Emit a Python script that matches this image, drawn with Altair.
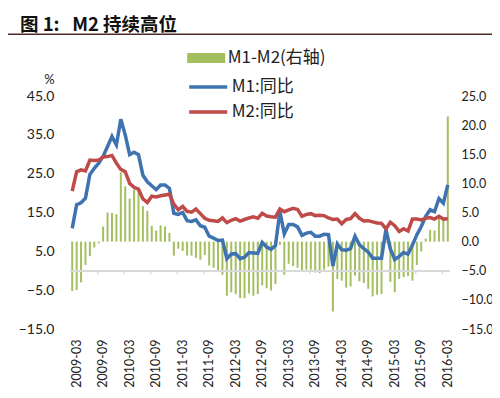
import altair as alt
import pandas as pd

# ---- data (monthly, 2009-02 .. 2016-03) ----
all_months = [f"{y}-{m:02d}" for y in range(2009, 2017) for m in range(1, 13)]
months = all_months[all_months.index("2009-02"):all_months.index("2016-03") + 1]

m1 = [10.9, 17.0, 17.5, 18.7, 24.8, 26.4, 27.7, 29.5, 32.0, 34.6, 32.4,
      39.0, 35.0, 29.9, 30.5, 29.9, 24.6, 22.9, 21.9, 20.9, 22.1, 22.1, 21.2,
      14.8, 14.5, 15.0, 12.9, 12.7, 13.1, 11.6, 11.2, 8.9, 8.4, 7.8, 7.9,
      3.1, 4.3, 4.4, 3.1, 3.5, 4.7, 4.6, 4.5, 7.3, 6.1, 5.5, 6.5,
      15.3, 9.5, 11.9, 11.9, 11.3, 9.1, 9.7, 9.9, 8.9, 8.9, 9.4, 9.3,
      1.2, 6.9, 5.4, 5.3, 5.7, 8.9, 6.7, 5.7, 4.8, 3.2, 3.2, 3.2,
      10.6, 5.6, 2.9, 3.7, 4.7, 4.3, 6.6, 9.3, 11.4, 14.0, 15.7, 15.2,
      18.6, 17.4, 22.1]

m2 = [20.5, 25.5, 26.0, 25.7, 28.5, 28.4, 28.5, 29.3, 29.4, 29.7, 27.7,
      26.1, 25.5, 22.5, 21.5, 21.0, 18.5, 17.6, 19.2, 19.0, 19.3, 19.5, 19.7,
      17.2, 15.7, 16.6, 15.3, 15.1, 15.9, 14.7, 13.5, 13.0, 12.9, 12.7, 13.6,
      12.4, 13.0, 13.4, 12.8, 13.2, 13.6, 13.9, 13.5, 14.8, 14.1, 13.9, 13.8,
      15.9, 15.2, 15.7, 16.1, 15.8, 14.0, 14.5, 14.7, 14.2, 14.3, 14.2, 13.6,
      13.2, 13.3, 12.1, 13.2, 13.4, 14.7, 13.5, 12.8, 12.9, 12.6, 12.3, 12.2,
      10.8, 12.5, 11.6, 10.1, 10.8, 10.2, 13.3, 13.3, 13.1, 13.5, 13.7, 13.3,
      14.0, 13.3, 13.4]

spread = [-8.5, -8.3, -7.0, -4.0, -2.5, -1.0, -0.3, 2.6, 5.0, 4.9, 4.7,
          11.9, 9.5, 7.4, 9.0, 8.9, 6.1, 5.3, 2.7, 1.9, 2.8, 2.6, 1.5,
          -2.4, -1.2, -1.6, -2.4, -2.4, -2.8, -3.1, -2.3, -4.1, -4.5, -4.9, -5.7,
          -9.3, -8.7, -9.0, -9.7, -9.7, -8.9, -9.3, -9.0, -7.5, -8.0, -8.4, -7.3,
          -0.6, -5.7, -3.8, -4.2, -4.5, -4.9, -4.8, -4.8, -5.3, -5.4, -4.8, -4.3,
          -12.0, -6.4, -6.7, -7.9, -7.7, -5.8, -6.8, -7.1, -8.1, -9.4, -9.1, -9.0,
          -0.2, -6.9, -8.7, -6.4, -6.1, -5.9, -6.7, -4.0, -1.7, 0.5, 2.0, 1.9,
          4.6, 4.1, 21.5]

x_labels = ["2009-03", "2009-09", "2010-03", "2010-09", "2011-03", "2011-09",
            "2012-03", "2012-09", "2013-03", "2013-09", "2014-03", "2014-09",
            "2015-03", "2015-09", "2016-03"]
tick_months = ["2009-08", "2010-02", "2010-08", "2011-02", "2011-08", "2012-02",
               "2012-08", "2013-02", "2013-08", "2014-02", "2014-08", "2015-02",
               "2015-08", "2016-02"]
left_ticks = [-15, -5, 5, 15, 25, 35, 45]
right_ticks = [-15, -10, -5, 0, 5, 10, 15, 20, 25]

bar_name = "M1-M2(右轴)"
line_names = ["M1:同比", "M2:同比"]
title_text = "图\u00a01:\u00a0\u00a0\u00a0M2\u00a0持续高位"

bars_df = pd.DataFrame({"month": months, "value": spread, "series": bar_name})
lines_df = pd.DataFrame({
    "month": months + months,
    "value": m1 + m2,
    "series": [line_names[0]] * len(months) + [line_names[1]] * len(months),
})
ticks_df = pd.DataFrame({"month": tick_months})
title_df = pd.DataFrame({"t": [title_text]})

NUM_FONT = "Lato"
CJK_FONT = "Noto Sans CJK SC"
TXT = "#222222"

x_scale = alt.Scale(paddingInner=0.55, paddingOuter=0.275)
x_axis = alt.Axis(values=x_labels, labelAngle=-90, domain=False, ticks=False,
                  title=None, labelFont=NUM_FONT, labelFontSize=12.5,
                  labelColor=TXT, labelPadding=10, labelOverlap=False)

left_scale = alt.Scale(domain=[-15, 45], nice=False, zero=False)
left_axis = alt.Axis(orient="left", values=left_ticks, format=".1f",
                     grid=False, domain=False, ticks=False, title="%",
                     titleAngle=0, titleX=-21, titleY=-17,
                     titleAlign="center", titleBaseline="middle",
                     titleFont=NUM_FONT, titleFontSize=13,
                     titleFontWeight="normal", titleColor=TXT,
                     labelFont=NUM_FONT, labelFontSize=14, labelColor=TXT,
                     labelPadding=16, labelOverlap=False)

bars = alt.Chart(bars_df).mark_bar(color="#a9c263").encode(
    x=alt.X("month:O", scale=x_scale, axis=x_axis),
    y=alt.Y("value:Q",
            scale=alt.Scale(domain=[-15, 25], nice=False, zero=False),
            axis=alt.Axis(orient="right", values=right_ticks, format=".1f",
                          grid=False, domain=False, ticks=False, title=None,
                          labelFont=NUM_FONT, labelFontSize=12.5, labelColor=TXT,
                          labelPadding=11, labelOverlap=False)),
    fill=alt.Fill("series:N",
                  scale=alt.Scale(domain=[bar_name], range=["#a4bf5e"]),
                  legend=alt.Legend(orient="none", legendX=126.7, legendY=-47.5,
                                    title=None, padding=0,
                                    symbolType="M-2,-0.53H2V0.53H-2Z",
                                    symbolSize=361, symbolStrokeWidth=0,
                                    labelOffset=12, labelFont=CJK_FONT,
                                    labelFontSize=17, labelColor=TXT)),
)

axis_rule = alt.Chart(ticks_df).mark_rule(color="#d9d9d9", strokeWidth=1.5).encode(
    y=alt.YDatum(0, scale=left_scale, axis=left_axis),
)

ticks = alt.Chart(ticks_df).mark_rule(color="#d0d0d0", strokeWidth=1).encode(
    x=alt.X("month:O", bandPosition=0, scale=x_scale, axis=x_axis),
    y=alt.YDatum(0, scale=left_scale, axis=left_axis),
    y2=alt.Y2Datum(-0.9),
)

lines = alt.Chart(lines_df).mark_line(strokeWidth=3.5).encode(
    x=alt.X("month:O", scale=x_scale, axis=x_axis),
    y=alt.Y("value:Q", scale=left_scale, axis=left_axis),
    stroke=alt.Stroke("series:N",
                      scale=alt.Scale(domain=line_names,
                                      range=["#3e73b0", "#bf4b48"]),
                      legend=alt.Legend(orient="none", legendX=126.7, legendY=-20.5,
                                        title=None, padding=0,
                                        symbolType="M-2,0H2", symbolSize=361,
                                        symbolStrokeWidth=3.5, rowPadding=5,
                                        labelOffset=12, labelFont=CJK_FONT,
                                        labelFontSize=17, labelColor=TXT)),
    detail="series:N",
)

left_group = alt.layer(axis_rule, ticks, lines)

title_mark = alt.Chart(title_df).mark_text(
    align="left", baseline="middle", font=CJK_FONT, fontSize=18.5,
    fontWeight="bold", color="#111111",
).encode(
    text="t:N",
    x=alt.value(-50),
    y=alt.value(-71),
)

underline = alt.Chart(title_df).mark_rule(color="#4d2b26", strokeWidth=1.5).encode(
    x=alt.value(-62),
    x2=alt.value(422),
    y=alt.value(-61.7),
)

chart = alt.layer(bars, left_group, title_mark, underline).resolve_scale(
    y="independent", fill="independent", stroke="independent"
).properties(
    width=380,
    height=233,
    padding={"left": 62, "top": 88, "right": 42, "bottom": 61},
    autosize=alt.AutoSizeParams(type="none"),
    background="white",
).configure_view(stroke=None)

chart.save("out.html", embed_options={"renderer": "svg", "actions": False})
